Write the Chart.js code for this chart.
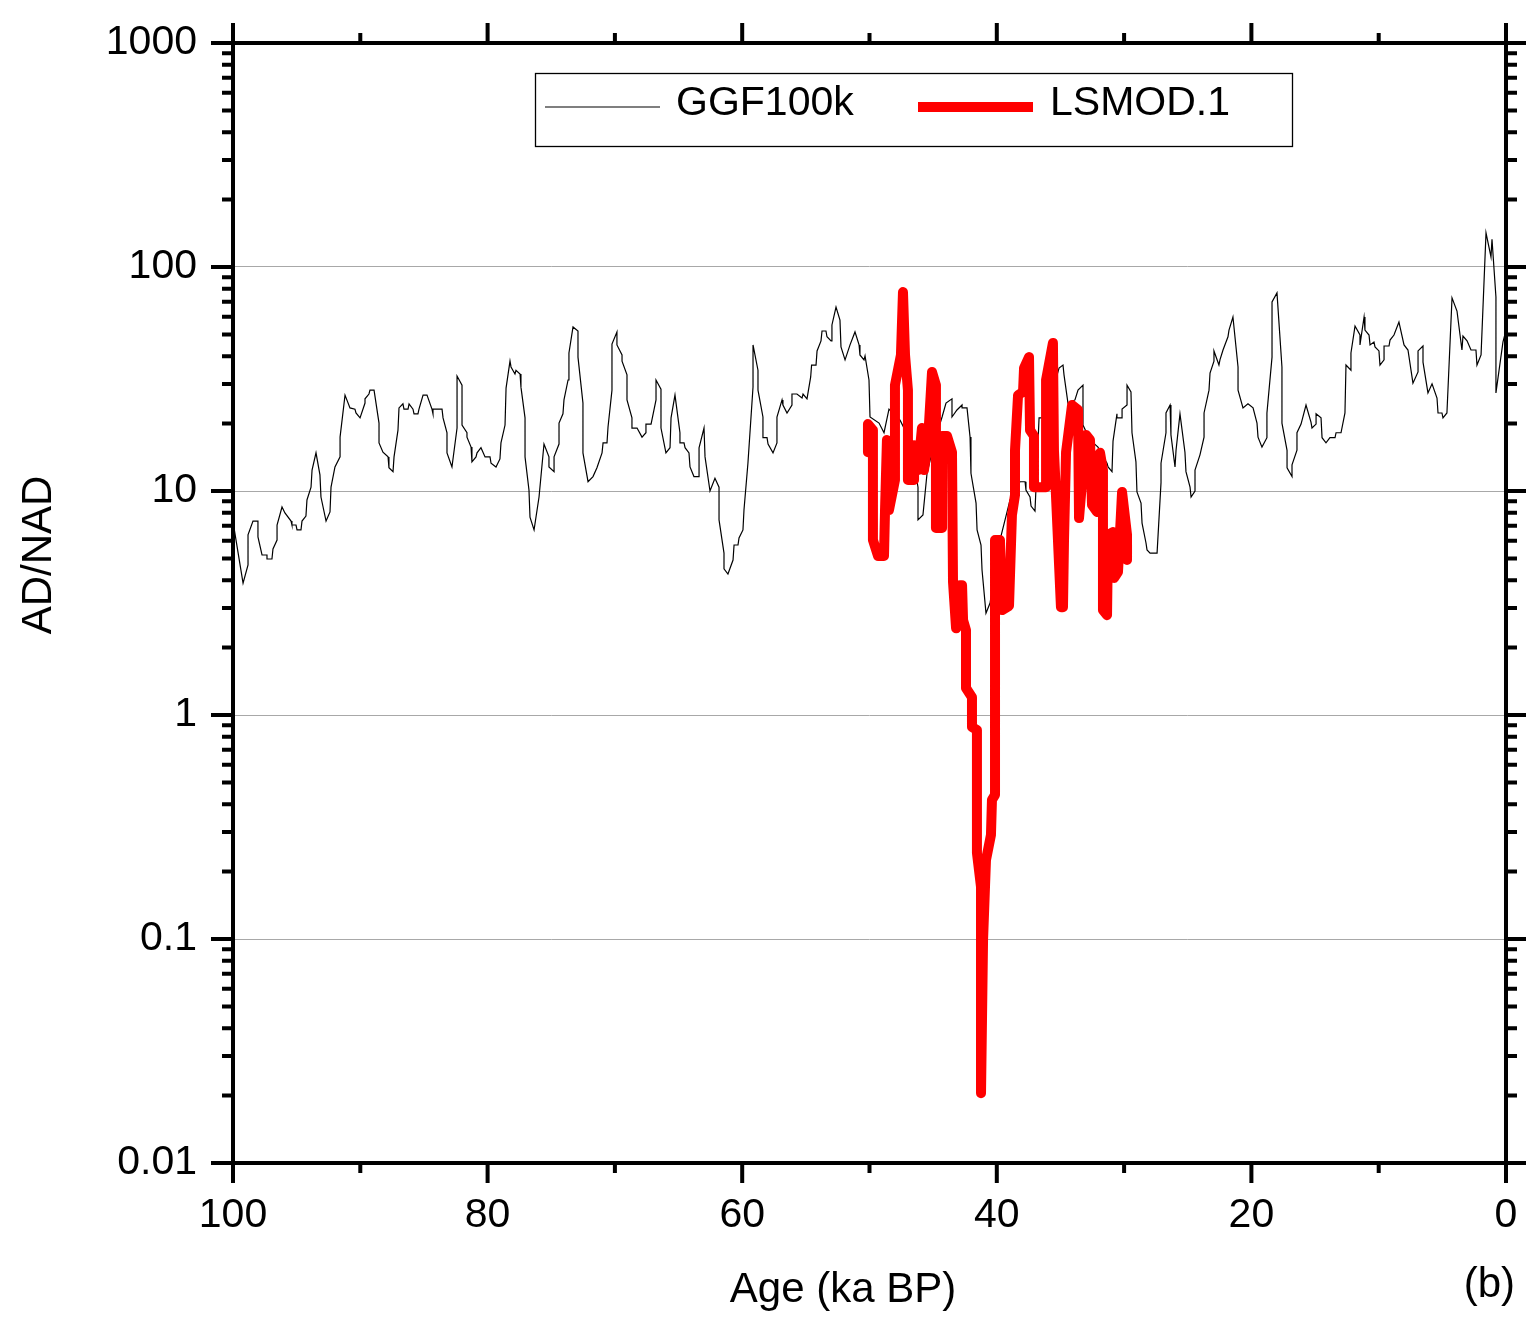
<!DOCTYPE html>
<html>
<head>
<meta charset="utf-8">
<script src="https://cdn.jsdelivr.net/npm/chart.js@4.4.1/dist/chart.umd.min.js"></script>
<style>
  html, body { margin: 0; padding: 0; background: #fff; }
  #wrap { width: 1526px; height: 1320px; position: relative; }
</style>
</head>
<body>
<div id="wrap"><canvas id="chart"></canvas></div>
<script>
// GGF100k (ka BP / AD-NAD ratio)
const ggfAge = [
  99.92, 99.21, 98.82, 98.82, 98.43, 98.04, 98.04, 97.72, 97.33, 97.33,
  96.94, 96.86, 96.54, 96.54, 96.15, 95.92, 95.44, 95.37, 95.05, 94.97,
  94.66, 94.58, 94.27, 94.19, 93.87, 93.79, 93.48, 93.17, 93.09, 92.69,
  92.38, 92.30, 91.99, 91.59, 91.59, 91.20, 90.81, 90.42, 90.34, 90.02,
  89.63, 89.63, 89.32, 89.24, 88.92, 88.53, 88.53, 88.22, 87.82, 87.75,
  87.43, 87.35, 87.04, 86.96, 86.65, 86.57, 86.25, 86.17, 85.86, 85.78,
  85.47, 85.39, 85.07, 84.76, 84.37, 84.29, 84.29, 83.58, 83.50, 83.19,
  83.19, 82.80, 82.40, 82.40, 82.01, 82.01, 81.62, 81.62, 81.30, 81.23,
  80.91, 80.83, 80.52, 80.20, 79.81, 79.73, 79.34, 79.03, 78.95, 78.63,
  78.55, 78.24, 78.16, 77.85, 77.77, 77.45, 77.38, 77.06, 77.06, 76.75,
  76.67, 76.35, 75.96, 75.57, 75.18, 75.18, 74.78, 74.78, 74.39, 74.39,
  74.08, 74.00, 73.68, 73.61, 73.29, 72.90, 72.90, 72.51, 72.51, 72.11,
  71.72, 71.41, 71.01, 70.93, 70.62, 70.54, 70.23, 70.23, 69.84, 69.84,
  69.44, 69.44, 69.05, 69.05, 68.66, 68.66, 68.26, 67.87, 67.56, 67.56,
  67.16, 66.77, 66.77, 66.38, 66.38, 65.99, 65.67, 65.59, 65.28, 64.89,
  64.89, 64.57, 64.49, 64.18, 64.10, 63.79, 63.39, 63.39, 63.00, 62.92,
  62.53, 62.14, 61.82, 61.82, 61.43, 61.43, 61.12, 60.72, 60.64, 60.33,
  60.25, 59.94, 59.86, 59.55, 59.15, 59.15, 58.76, 58.76, 58.37, 58.37,
  58.05, 57.97, 57.58, 57.27, 57.27, 56.87, 56.80, 56.48, 56.09, 56.09,
  55.70, 55.30, 55.22, 54.91, 54.62, 54.55, 54.20, 54.12, 53.81, 53.73,
  53.42, 53.34, 53.02, 52.95, 52.63, 52.32, 52.24, 51.92, 51.53, 51.14,
  50.82, 50.75, 50.43, 50.35, 50.04, 49.96, 49.25, 48.86, 48.47, 47.60,
  46.82, 46.19, 46.19, 45.80, 45.48, 44.86, 44.30, 43.99, 43.52, 43.52,
  43.13, 42.73, 42.73, 42.34, 42.10, 42.03, 41.63, 41.55, 41.24, 41.16,
  40.85, 40.53, 39.75, 38.96, 38.18, 37.78, 37.71, 37.39, 37.31, 37.00,
  36.68, 36.29, 35.82, 35.11, 34.80, 34.72, 34.41, 33.86, 33.62, 33.23,
  33.23, 32.68, 32.05, 31.66, 31.34, 31.26, 30.95, 30.87, 30.56, 30.56,
  30.16, 30.16, 29.77, 29.77, 29.46, 29.38, 29.07, 28.99, 28.67, 28.59,
  28.28, 28.20, 27.96, 27.41, 27.10, 27.10, 26.71, 26.71, 26.39, 26.32,
  26.00, 25.92, 25.61, 25.22, 25.14, 24.82, 24.74, 24.43, 24.43, 24.04,
  23.72, 23.72, 23.33, 23.25, 22.94, 22.94, 22.55, 22.47, 22.23, 21.84,
  21.76, 21.45, 21.05, 21.05, 20.66, 20.27, 19.87, 19.56, 19.48, 19.17,
  18.78, 18.78, 18.38, 18.38, 17.99, 17.60, 17.60, 17.20, 17.20, 16.81,
  16.81, 16.42, 16.42, 16.10, 15.71, 15.32, 15.24, 14.92, 14.92, 14.53,
  14.45, 14.14, 13.83, 13.43, 13.35, 12.96, 12.65, 12.57, 12.18, 12.18,
  11.86, 11.47, 11.47, 11.15, 11.08, 10.76, 10.68, 10.37, 10.29, 9.98,
  9.90, 9.58, 9.58, 9.19, 9.11, 8.80, 8.41, 8.01, 7.70, 7.31,
  6.91, 6.91, 6.52, 6.52, 6.13, 5.81, 5.42, 5.34, 5.03, 4.95,
  4.64, 4.24, 3.85, 3.46, 3.38, 3.06, 2.75, 2.36, 2.28, 1.96,
  1.57, 1.18, 1.10, 0.79, 0.79, 0.24, 0.00
];
const ggfValue = [
  6.84, 3.88, 4.68, 6.37, 7.34, 7.34, 6.24, 5.18, 5.18, 4.97,
  4.97, 5.51, 6.04, 7.05, 8.48, 7.98, 7.34, 7.05, 7.05, 6.70,
  6.70, 7.34, 7.73, 9.12, 10.4, 12.4, 14.8, 11.8, 9.4, 7.34,
  8.06, 10.4, 12.8, 14.2, 17.4, 26.8, 23.5, 23.2, 22.3, 21.2,
  24.7, 25.8, 27.1, 28.2, 28.2, 20.1, 16.4, 14.9, 14.2, 12.7,
  12.2, 14.2, 18.7, 23.5, 24.5, 23.2, 23.2, 24.5, 23.2, 22.1,
  22.1, 23.2, 26.8, 26.8, 23.2, 22.1, 23.2, 23.2, 21.2, 18.2,
  14.8, 12.8, 19.1, 32.6, 29.7, 19.7, 18.2, 17.4, 15.7, 13.5,
  14.2, 14.8, 15.6, 14.2, 14.2, 13.3, 12.8, 13.9, 16.4, 19.7,
  28.8, 38.0, 35.8, 33.3, 34.6, 33.3, 29.1, 21.2, 14.2, 10.1,
  7.65, 6.70, 9.4, 16.2, 14.2, 12.8, 12.2, 14.2, 16.2, 20.1,
  22.1, 25.5, 31.3, 41.3, 54.0, 51.8, 39.6, 24.7, 14.8, 11.0,
  11.6, 12.7, 14.8, 16.4, 16.4, 19.3, 28.2, 45.3, 51.3, 44.9,
  40.5, 38.0, 33.0, 25.5, 21.2, 19.1, 19.1, 17.4, 18.2, 19.9,
  19.9, 25.5, 31.3, 28.5, 19.1, 14.8, 15.6, 21.2, 26.8, 18.2,
  16.4, 16.4, 15.6, 14.8, 12.8, 11.6, 11.6, 15.6, 19.1, 14.2,
  10.0, 11.4, 10.4, 7.43, 5.28, 4.49, 4.26, 4.92, 5.74, 5.74,
  6.17, 6.70, 8.22, 13.3, 29.1, 44.9, 34.6, 28.2, 21.4, 17.3,
  17.3, 16.2, 14.8, 16.4, 21.4, 25.5, 24.2, 22.3, 24.2, 27.1,
  27.1, 26.0, 27.1, 25.8, 32.3, 36.5, 36.5, 42.2, 46.8, 51.8,
  51.8, 48.8, 46.8, 55.1, 66.2, 58.0, 44.0, 38.5, 44.9, 51.3,
  44.9, 40.5, 38.5, 40.1, 31.3, 21.4, 20.1, 18.2, 23.2, 20.7,
  16.9, 10.4, 7.43, 7.82, 12.0, 16.9, 21.4, 24.7, 25.8, 21.4,
  23.0, 24.2, 23.5, 23.5, 17.4, 12.0, 8.83, 6.70, 5.74, 4.44,
  2.85, 3.16, 6.04, 9.12, 11.0, 11.0, 10.1, 9.4, 8.57, 8.14,
  21.2, 21.2, 25.5, 35.4, 36.5, 33.0, 24.7, 25.5, 28.2, 29.7,
  19.7, 16.9, 15.7, 14.2, 13.3, 12.8, 12.2, 16.7, 22.1, 21.2,
  21.2, 23.2, 24.2, 29.7, 27.7, 18.2, 13.5, 9.9, 8.83, 7.19,
  5.86, 5.46, 5.28, 5.28, 10.9, 13.3, 18.2, 22.3, 24.2, 17.8,
  12.8, 15.2, 22.1, 14.9, 12.2, 10.4, 9.4, 10.0, 12.4, 14.5,
  17.4, 22.3, 28.2, 33.6, 38.0, 42.2, 36.5, 38.5, 42.6, 48.8,
  52.3, 59.8, 35.8, 28.2, 23.5, 24.5, 23.5, 20.1, 17.4, 15.7,
  17.3, 22.3, 39.6, 69.8, 76.6, 35.8, 20.1, 15.2, 12.7, 11.6,
  13.1, 15.2, 18.2, 19.9, 24.2, 20.3, 19.1, 19.9, 22.1, 21.2,
  17.3, 16.4, 17.3, 17.3, 18.2, 18.2, 22.3, 36.5, 34.6, 41.3,
  54.5, 49.7, 44.9, 59.8, 52.3, 49.7, 44.9, 46.2, 44.0, 42.2,
  36.5, 38.5, 44.4, 44.4, 47.2, 49.7, 56.8, 44.9, 42.6, 30.3,
  34.0, 42.2, 44.4, 37.6, 27.4, 30.1, 26.0, 22.3, 22.3, 21.2,
  22.3, 72.8, 63.6, 42.6, 49.2, 46.8, 42.6, 42.6, 36.5, 40.5,
  142, 111, 133, 73.5, 27.4, 46.2, 52.3
];

// LSMOD.1
const lsmodAge = [
  50.12, 50.12, 49.73, 49.73, 49.33, 48.86, 48.78, 48.63, 48.47, 48.00,
  48.00, 47.53, 47.37, 47.21, 46.98, 46.98, 46.50, 46.50, 46.19, 45.88,
  45.72, 45.40, 45.09, 44.78, 44.78, 44.30, 44.30, 43.91, 43.52, 43.44,
  43.20, 42.89, 42.73, 42.65, 42.42, 42.42, 41.95, 41.95, 41.56, 41.56,
  41.24, 41.24, 41.08, 40.85, 40.46, 40.38, 40.14, 40.14, 39.75, 39.59,
  39.04, 38.81, 38.57, 38.57, 38.33, 37.94, 37.86, 37.47, 37.39, 37.08,
  37.08, 36.13, 36.13, 35.59, 35.51, 34.96, 34.80, 34.72, 34.56, 34.09,
  33.62, 33.54, 32.99, 32.68, 32.52, 32.13, 31.89, 31.66, 31.66, 31.34,
  31.26, 30.87, 30.79, 30.48, 30.16, 29.77, 29.77
];
const lsmodValue = [
  14.9, 19.9, 18.7, 6.04, 5.13, 5.13, 8.22, 16.9, 8.22, 11.2,
  29.7, 40.5, 77.3, 40.5, 28.2, 11.2, 11.2, 16.0, 12.4, 19.1,
  12.4, 16.9, 34.0, 29.7, 6.84, 6.84, 17.6, 17.6, 14.9, 3.93,
  2.44, 3.80, 3.80, 2.65, 2.39, 1.32, 1.20, 0.884, 0.857, 0.242,
  0.171, 0.0205, 0.099, 0.225, 0.291, 0.418, 0.440, 6.04, 6.04, 2.94,
  3.07, 7.82, 9.6, 15.2, 26.8, 27.7, 35.4, 39.6, 18.7, 17.6,
  10.4, 10.4, 31.3, 45.8, 15.2, 3.03, 3.03, 6.04, 14.9, 24.2,
  23.0, 7.57, 17.8, 16.9, 8.67, 8.06, 14.8, 12.4, 2.94, 2.79,
  6.37, 6.56, 4.09, 4.35, 9.9, 6.37, 4.92
];

const xTicks = [100, 80, 60, 40, 20, 0];
const yTicks = [0.01, 0.1, 1, 10, 100, 1000];
const yTickLabels = ['0.01', '0.1', '1', '10', '100', '1000'];

const FONT = "'Liberation Sans', Arial, sans-serif";
const CLEAR = 'rgba(0,0,0,0)';

const toPoints = (xs, ys) => xs.map((x, i) => ({ x: x, y: ys[i] }));

// frame + outward tick marks on all four sides
const frameAndTicks = {
  id: 'frameAndTicks',
  afterDatasetsDraw(chart) {
    const { ctx, chartArea: a } = chart;
    const x = chart.scales.x, y = chart.scales.y;
    ctx.save();
    ctx.strokeStyle = '#000';
    ctx.lineWidth = 4;
    ctx.beginPath();
    for (let v = 0; v <= 100; v += 10) {
      const px = x.getPixelForValue(v);
      const len = v % 20 === 0 ? 20 : 10;
      ctx.moveTo(px, a.bottom); ctx.lineTo(px, a.bottom + len);
      ctx.moveTo(px, a.top); ctx.lineTo(px, a.top - len);
    }
    for (let e = -2; e <= 3; e++) {
      for (let m = 1; m <= 9; m++) {
        if (e === 3 && m > 1) break;
        const py = y.getPixelForValue(m * Math.pow(10, e));
        const len = m === 1 ? 22 : 11;
        ctx.moveTo(a.left, py); ctx.lineTo(a.left - len, py);
        ctx.moveTo(a.right, py); ctx.lineTo(a.right + len, py);
      }
    }
    ctx.stroke();
    ctx.strokeRect(a.left, a.top, a.right - a.left, a.bottom - a.top);
    ctx.restore();
  }
};

const legendBox = {
  id: 'legendBox',
  afterDraw(chart) {
    const ctx = chart.ctx;
    const ds = chart.data.datasets;
    const slots = [{ x: 545, tx: 676 }, { x: 918, tx: 1050 }];
    ctx.save();
    ctx.strokeStyle = '#000';
    ctx.lineWidth = 1.3;
    ctx.strokeRect(535.5, 73.5, 757, 73);
    ctx.font = '41px ' + FONT;
    ctx.fillStyle = '#000';
    ctx.textBaseline = 'alphabetic';
    ds.forEach((d, i) => {
      const s = slots[i];
      ctx.beginPath();
      ctx.strokeStyle = d.borderColor;
      ctx.lineWidth = d.borderWidth;
      ctx.lineCap = 'butt';
      ctx.moveTo(s.x, 107);
      ctx.lineTo(s.x + 115, 107);
      ctx.stroke();
      ctx.fillText(d.label, s.tx, 115);
    });
    ctx.restore();
  }
};

const axisTitles = {
  id: 'axisTitles',
  afterDraw(chart) {
    const ctx = chart.ctx;
    ctx.save();
    ctx.font = '42px ' + FONT;
    ctx.fillStyle = '#000';
    ctx.textBaseline = 'alphabetic';
    ctx.textAlign = 'center';
    ctx.fillText('Age (ka BP)', 843, 1302);
    ctx.textAlign = 'right';
    ctx.fillText('(b)', 1515, 1297);
    ctx.translate(51, 555);
    ctx.rotate(-Math.PI / 2);
    ctx.textAlign = 'center';
    ctx.fillText('AD/NAD', 0, 0);
    ctx.restore();
  }
};

new Chart(document.getElementById('chart'), {
  type: 'line',
  data: {
    datasets: [
      {
        label: 'GGF100k',
        data: toPoints(ggfAge, ggfValue),
        borderColor: '#000000',
        borderWidth: 1.2,
        pointRadius: 0,
        tension: 0,
        order: 1
      },
      {
        label: 'LSMOD.1',
        data: toPoints(lsmodAge, lsmodValue),
        borderColor: '#ff0000',
        borderWidth: 10,
        pointRadius: 0,
        tension: 0,
        borderCapStyle: 'round',
        borderJoinStyle: 'round',
        order: 0
      }
    ]
  },
  options: {
    responsive: true,
    maintainAspectRatio: false,
    animation: false,
    layout: { padding: { top: 43, right: 20, bottom: 0, left: 0 } },
    plugins: { legend: { display: false }, tooltip: { enabled: false } },
    scales: {
      x: {
        type: 'linear',
        min: 0,
        max: 100,
        reverse: true,
        afterBuildTicks: s => { s.ticks = xTicks.map(v => ({ value: v })); },
        afterFit: s => { s.height = 157; },
        grid: { display: true, drawOnChartArea: false, drawTicks: true, tickLength: 26, color: CLEAR, tickColor: CLEAR },
        border: { display: false },
        ticks: {
          font: { size: 41, family: FONT },
          color: '#000',
          padding: 2,
          maxRotation: 0,
          autoSkip: false,
          callback: v => String(v)
        }
      },
      y: {
        type: 'logarithmic',
        min: 0.01,
        max: 1000,
        afterBuildTicks: s => { s.ticks = yTicks.map(v => ({ value: v })); },
        afterFit: s => { s.width = 233; },
        grid: {
          drawTicks: true,
          tickLength: 34,
          tickColor: CLEAR,
          lineWidth: 1,
          color: c => (c.tick && c.tick.value > 0.01 && c.tick.value < 1000) ? '#a8a8a8' : CLEAR
        },
        border: { display: false },
        ticks: {
          font: { size: 41, family: FONT },
          color: '#000',
          padding: 2,
          autoSkip: false,
          callback: (v, i) => yTickLabels[i]
        }
      }
    }
  },
  plugins: [frameAndTicks, legendBox, axisTitles]
});
</script>
</body>
</html>
